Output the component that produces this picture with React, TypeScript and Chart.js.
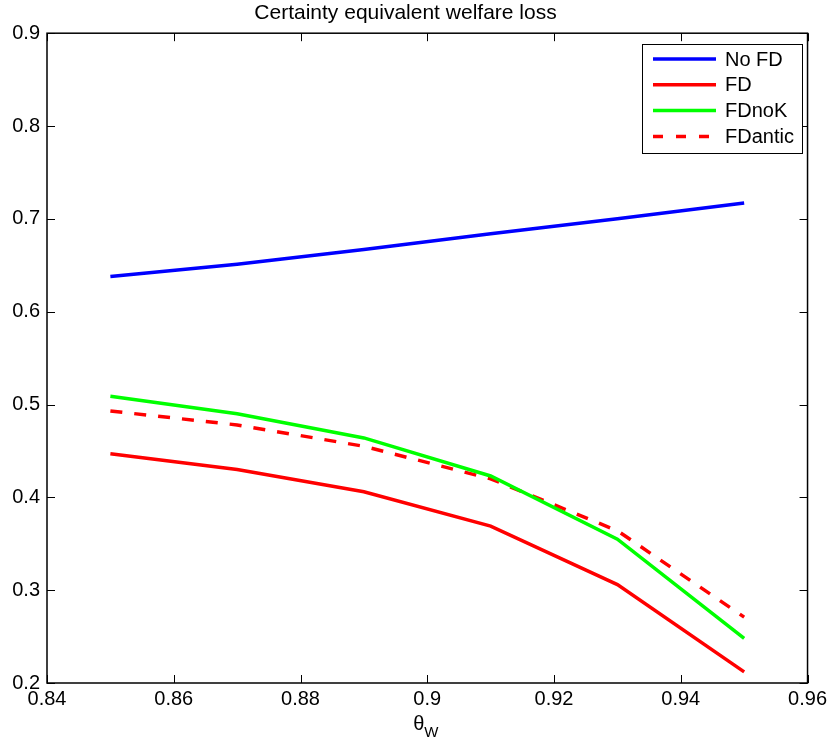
import React, { useEffect, useRef } from "react";
import { Chart, registerables } from "chart.js";

Chart.register(...registerables);

const thetaW = [0.85, 0.87, 0.89, 0.91, 0.93, 0.95];
const noFD = [0.638, 0.651, 0.667, 0.684, 0.7, 0.717];
const fd = [0.447, 0.43, 0.406, 0.369, 0.306, 0.212];
const fdNoK = [0.509, 0.49, 0.464, 0.423, 0.355, 0.248];
const fdAntic = [0.493, 0.478, 0.455, 0.42, 0.364, 0.271];

const xTicks = [0.84, 0.86, 0.88, 0.9, 0.92, 0.94, 0.96];
const yTicks = [0.2, 0.3, 0.4, 0.5, 0.6, 0.7, 0.8, 0.9];

const titleText = "Certainty equivalent welfare loss";
const seriesNames = ["No FD", "FD", "FDnoK", "FDantic"];

const FONT = "'Liberation Sans', Arial, Helvetica, sans-serif";

const toPoints = (ys: number[]) => thetaW.map((x, i) => ({ x, y: ys[i] }));

const matlabAxes = {
  id: "matlabAxes",
  afterDraw(chart: any) {
    const { ctx, chartArea } = chart;
    const { left, right, top, bottom } = chartArea;
    const xs = chart.scales.x;
    const ys = chart.scales.y;
    ctx.save();
    ctx.strokeStyle = "#000";
    ctx.lineWidth = 1;
    ctx.beginPath();
    const tl = 8;
    xTicks.forEach((v) => {
      const px = Math.round(xs.getPixelForValue(v)) + 0.5;
      ctx.moveTo(px, bottom);
      ctx.lineTo(px, bottom - tl);
      ctx.moveTo(px, top);
      ctx.lineTo(px, top + tl);
    });
    yTicks.forEach((v) => {
      const py = Math.round(ys.getPixelForValue(v)) + 0.5;
      ctx.moveTo(left, py);
      ctx.lineTo(left + tl, py);
      ctx.moveTo(right, py);
      ctx.lineTo(right - tl, py);
    });
    ctx.stroke();
    ctx.lineWidth = 1.5;
    ctx.strokeRect(left, top, right - left, bottom - top);

    // x-axis label theta_W
    ctx.fillStyle = "#000";
    ctx.textBaseline = "alphabetic";
    ctx.textAlign = "left";
    ctx.font = `20px ${FONT}`;
    const cx = (left + right) / 2;
    ctx.fillText("θ", cx - 14, 730);
    ctx.font = `15px ${FONT}`;
    ctx.fillText("W", cx - 3, 737);

    // legend
    const bx = 642, by = 44, bw = 160, bh = 109;
    ctx.fillStyle = "#fff";
    ctx.fillRect(bx, by, bw, bh);
    ctx.strokeStyle = "#000";
    ctx.lineWidth = 1;
    ctx.strokeRect(bx + 0.5, by + 0.5, bw, bh);
    chart.data.datasets.forEach((ds: any, i: number) => {
      const yy = 59 + i * 25.8;
      ctx.strokeStyle = ds.borderColor;
      ctx.lineWidth = ds.borderWidth;
      ctx.setLineDash(ds.borderDash && ds.borderDash.length ? [10, 13] : []);
      ctx.beginPath();
      ctx.moveTo(653, yy);
      ctx.lineTo(716, yy);
      ctx.stroke();
      ctx.setLineDash([]);
      ctx.fillStyle = "#000";
      ctx.font = `20px ${FONT}`;
      ctx.textBaseline = "middle";
      ctx.fillText(ds.label, 725, yy + 1);
    });
    ctx.restore();
  },
};

export default function App() {
  const ref = useRef<HTMLCanvasElement | null>(null);
  useEffect(() => {
    if (!ref.current) return;
    const chart = new Chart(ref.current, {
      type: "line",
      data: {
        datasets: [
          { label: seriesNames[0], data: toPoints(noFD), borderColor: "#0000ff", borderWidth: 3.5, pointRadius: 0, fill: false, tension: 0 },
          { label: seriesNames[1], data: toPoints(fd), borderColor: "#ff0000", borderWidth: 3.5, pointRadius: 0, fill: false, tension: 0 },
          { label: seriesNames[2], data: toPoints(fdNoK), borderColor: "#00ff00", borderWidth: 3.5, pointRadius: 0, fill: false, tension: 0 },
          { label: seriesNames[3], data: toPoints(fdAntic), borderColor: "#ff0000", borderWidth: 3.5, borderDash: [12, 12], pointRadius: 0, fill: false, tension: 0 },
        ],
      },
      options: {
        responsive: false,
        animation: false,
        layout: { padding: { top: 0, right: 20, left: 0, bottom: 0 } },
        plugins: {
          legend: { display: false },
          tooltip: { enabled: false },
          title: {
            display: true,
            text: titleText,
            color: "#000",
            font: { family: FONT, size: 21, weight: "normal" },
            padding: { top: 1, bottom: 7 },
          },
        },
        scales: {
          x: {
            type: "linear",
            min: 0.84,
            max: 0.96,
            afterBuildTicks: (s: any) => {
              s.ticks = xTicks.map((v) => ({ value: v }));
            },
            afterFit: (s: any) => {
              s.height = 55;
            },
            ticks: {
              color: "#000",
              font: { family: FONT, size: 20 },
              padding: 4,
              maxRotation: 0,
              autoSkip: false,
              callback: (v: any) => String(v),
            },
            grid: { display: false, drawTicks: false },
            border: { display: false },
          },
          y: {
            type: "linear",
            min: 0.2,
            max: 0.9,
            afterBuildTicks: (s: any) => {
              s.ticks = yTicks.map((v) => ({ value: v }));
            },
            afterFit: (s: any) => {
              s.width = 47;
            },
            ticks: {
              color: "#000",
              font: { family: FONT, size: 20 },
              padding: 7,
              autoSkip: false,
              callback: (v: any) => String(v),
            },
            grid: { display: false, drawTicks: false },
            border: { display: false },
          },
        },
      },
      plugins: [matlabAxes],
    });
    return () => chart.destroy();
  }, []);
  return (
    <div style={{ position: "absolute", left: 0, top: 0, width: 831, height: 738, background: "#fff" }}>
      <canvas ref={ref} width={831} height={738} style={{ display: "block" }} />
    </div>
  );
}
